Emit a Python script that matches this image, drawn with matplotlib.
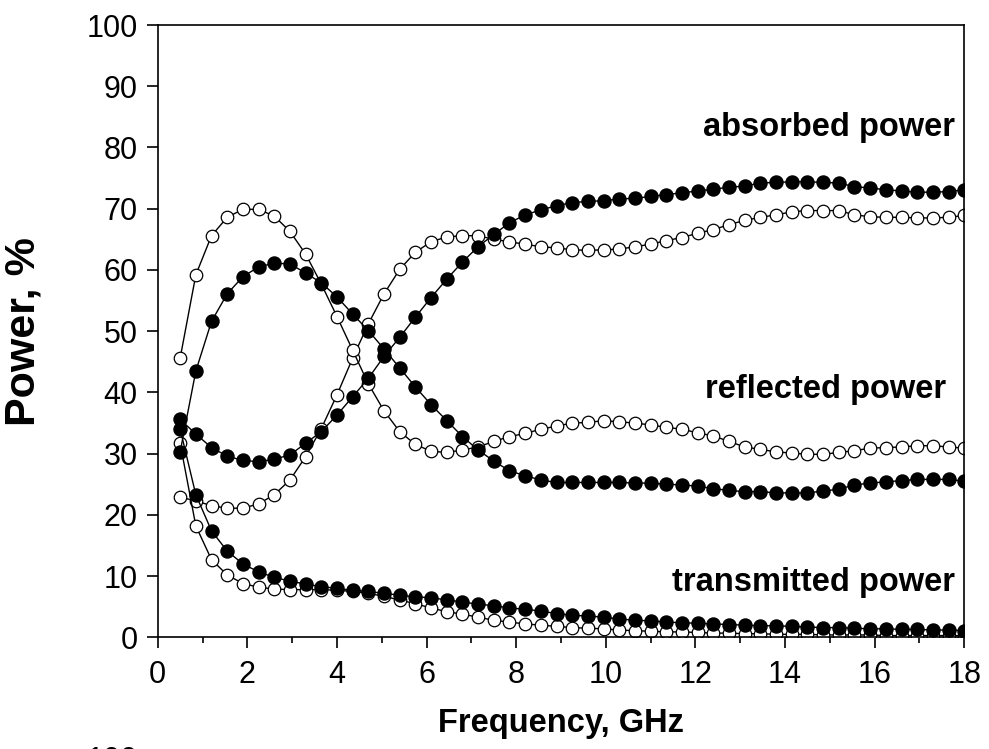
import matplotlib
matplotlib.use("Agg")
import matplotlib.pyplot as plt
from matplotlib.ticker import MultipleLocator

plt.rcParams["font.family"] = ["Liberation Sans", "DejaVu Sans"]

# frequency points, GHz
freq = [0.5, 0.85, 1.2, 1.55, 1.9, 2.25, 2.6, 2.95, 3.3, 3.65, 4.0, 4.35, 4.7,
        5.05, 5.4, 5.75, 6.1, 6.45, 6.8, 7.15, 7.5, 7.85, 8.2, 8.55, 8.9, 9.25,
        9.6, 9.95, 10.3, 10.65, 11.0, 11.35, 11.7, 12.05, 12.4, 12.75, 13.1,
        13.45, 13.8, 14.15, 14.5, 14.85, 15.2, 15.55, 15.9, 16.25, 16.6, 16.95,
        17.3, 17.65, 18.0]

# filled symbols
absorbed_filled = [35.6, 33.2, 31.0, 29.6, 28.9, 28.7, 29.1, 29.8, 31.7, 33.6,
                   36.3, 39.3, 42.3, 45.9, 49.0, 52.3, 55.5, 58.5, 61.3, 63.8,
                   65.8, 67.7, 69.0, 69.8, 70.5, 71.0, 71.2, 71.3, 71.6, 71.7,
                   72.0, 72.3, 72.6, 72.9, 73.2, 73.5, 73.7, 74.2, 74.3, 74.4,
                   74.4, 74.3, 74.2, 73.6, 73.4, 73.1, 72.9, 72.7, 72.7, 72.8,
                   73.1]
reflected_filled = [30.3, 43.5, 51.6, 56.1, 58.9, 60.5, 61.1, 61.0, 59.5, 57.9,
                    55.6, 52.8, 50.1, 47.1, 44.0, 40.9, 38.0, 35.4, 32.8, 30.6,
                    28.8, 27.2, 26.4, 25.7, 25.3, 25.3, 25.3, 25.3, 25.3, 25.2,
                    25.2, 25.0, 24.9, 24.7, 24.3, 24.0, 23.8, 23.8, 23.6, 23.6,
                    23.6, 23.9, 24.2, 24.9, 25.2, 25.4, 25.6, 25.8, 25.8, 25.8,
                    25.5]
transmitted_filled = [34.0, 23.3, 17.4, 14.1, 12.0, 10.7, 9.8, 9.2, 8.7, 8.3,
                      8.0, 7.7, 7.5, 7.2, 6.9, 6.6, 6.5, 6.1, 5.8, 5.4,
                      5.2, 4.8, 4.6, 4.3, 3.9, 3.6, 3.5, 3.3, 3.0, 2.8,
                      2.7, 2.5, 2.4, 2.3, 2.2, 2.1, 2.0, 1.9, 1.9, 1.8,
                      1.7, 1.6, 1.6, 1.5, 1.4, 1.4, 1.3, 1.3, 1.2, 1.2,
                      1.1]

# open symbols
absorbed_open = [22.9, 22.3, 21.5, 21.1, 21.1, 21.8, 23.3, 25.7, 29.5, 34.1,
                 39.6, 45.6, 51.2, 56.1, 60.1, 62.9, 64.6, 65.4, 65.6, 65.6,
                 65.0, 64.6, 64.2, 63.8, 63.6, 63.3, 63.2, 63.3, 63.4, 63.8,
                 64.2, 64.8, 65.3, 66.0, 66.6, 67.4, 68.1, 68.6, 69.0, 69.5,
                 69.7, 69.7, 69.7, 69.0, 68.7, 68.6, 68.6, 68.5, 68.5, 68.6,
                 68.9]
reflected_open = [45.6, 59.2, 65.6, 68.6, 69.9, 69.9, 68.8, 66.3, 62.6, 57.7,
                  52.4, 46.9, 41.4, 37.0, 33.6, 31.5, 30.4, 30.2, 30.6, 31.1,
                  32.0, 32.8, 33.3, 34.0, 34.5, 35.0, 35.1, 35.4, 35.2, 35.0,
                  34.7, 34.3, 34.0, 33.4, 32.9, 32.0, 31.1, 30.7, 30.3, 30.1,
                  29.9, 29.9, 30.2, 30.5, 30.9, 31.0, 31.1, 31.3, 31.3, 31.1,
                  30.9]
transmitted_open = [31.7, 18.2, 12.7, 10.2, 8.8, 8.2, 7.9, 7.8, 7.8, 7.8,
                    7.7, 7.5, 7.2, 6.7, 6.1, 5.5, 4.8, 4.2, 3.8, 3.3,
                    2.8, 2.5, 2.2, 2.0, 1.8, 1.6, 1.5, 1.4, 1.2, 1.1,
                    1.0, 0.9, 0.9, 0.8, 0.7, 0.7, 0.6, 0.6, 0.5, 0.5,
                    0.5, 0.4, 0.4, 0.4, 0.4, 0.3, 0.3, 0.3, 0.3, 0.3,
                    0.3]

labels = ["absorbed power", "reflected power", "transmitted power"]
label_pos = [(17.8, 81.8), (17.6, 39.1), (17.8, 7.5)]

fig = plt.figure(figsize=(9.89, 7.49), dpi=100)
ax = fig.add_axes([0.1595, 0.149, 0.8155, 0.8176])

for ys in [absorbed_open, reflected_open, transmitted_open]:
    ax.plot(freq, ys, "-o", color="black", lw=1.0, ms=9.0,
            mfc="white", mec="black", mew=0.9, zorder=2)
for ys in [absorbed_filled, reflected_filled, transmitted_filled]:
    ax.plot(freq, ys, "-o", color="black", lw=1.0, ms=9.4,
            mfc="black", mec="black", zorder=3)

for text, (x, y) in zip(labels, label_pos):
    ax.text(x, y, text, ha="right", va="baseline", fontsize=23.5,
            fontweight="bold", zorder=4)

ax.set_xlim(0, 18)
ax.set_ylim(0, 100)
ax.xaxis.set_major_locator(MultipleLocator(2))
ax.xaxis.set_minor_locator(MultipleLocator(1))
ax.yaxis.set_major_locator(MultipleLocator(10))

ax.tick_params(which="both", direction="out", width=1.2, labelsize=22,
               top=False, right=False)
ax.tick_params(which="major", length=8)
ax.tick_params(axis="x", which="major", pad=8)
ax.tick_params(axis="y", which="major", pad=6.5)
ax.tick_params(which="minor", length=4)
for sp in ax.spines.values():
    sp.set_linewidth(1.2)

ax.set_xlabel("Frequency, GHz", fontsize=23.5, fontweight="bold", labelpad=13)
ax.set_ylabel("Power, %", fontsize=31, fontweight="bold")
ax.yaxis.set_label_coords(-0.142, 0.5)

# top of the next panel's tick label, cut by the image edge
fig.text(112 / 989, 1 - 746 / 749, "100", ha="center", va="top", fontsize=22)

fig.savefig("out.png", dpi=100)
